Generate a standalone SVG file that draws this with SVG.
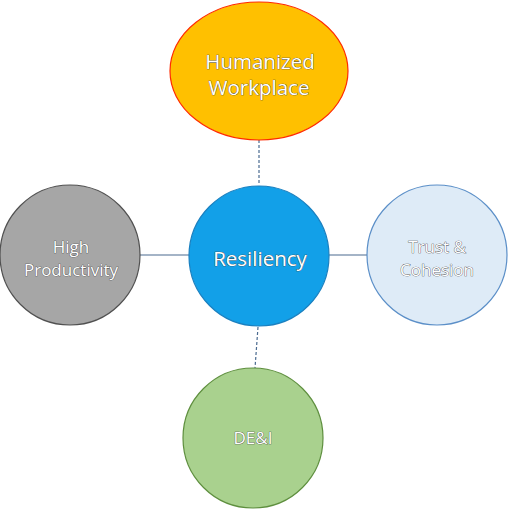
<svg xmlns="http://www.w3.org/2000/svg" width="509" height="510" viewBox="0 0 509 510">
<style>
.lbl{font-family:"Open Sans","Liberation Sans",sans-serif;fill:#ffffff;stroke:#404040;stroke-width:0.7;paint-order:stroke;text-anchor:middle}
.big{font-size:20.5px}
.sm{font-size:17px}
.con{stroke:#4a6a90;stroke-width:1.2;fill:none}
.dash{stroke-dasharray:3 2}
</style>
<rect width="509" height="510" fill="#ffffff"/>
<g id="connectors">
<line class="con dash" x1="259" y1="140" x2="259" y2="185"/>
<line class="con" x1="140" y1="255" x2="189" y2="255"/>
<line class="con" x1="329" y1="255" x2="367" y2="255"/>
<line class="con dash" x1="258" y1="327" x2="255" y2="368"/>
</g>
<g id="humanized">
<ellipse cx="259" cy="71" rx="89" ry="69" fill="#ffc000" stroke="#ff2a00" stroke-width="1.2"/>
<text class="lbl big" x="260" y="69">Humanized</text>
<text class="lbl big" x="259" y="95">Workplace</text>
</g>
<g id="productivity">
<circle cx="70" cy="255" r="70" fill="#a6a6a6" stroke="#505050" stroke-width="1.2"/>
<text class="lbl sm" x="71" y="253">High</text>
<text class="lbl sm" x="71" y="276">Productivity</text>
</g>
<g id="resiliency">
<circle cx="259" cy="256" r="70" fill="#12a0e8" stroke="#1a80c0" stroke-width="1.2"/>
<text class="lbl big" x="260" y="266">Resiliency</text>
</g>
<g id="trust">
<circle cx="437" cy="255" r="70" fill="#deebf7" stroke="#5b8fc8" stroke-width="1.2"/>
<text class="lbl sm" x="437" y="253">Trust &amp;</text>
<text class="lbl sm" x="437" y="276">Cohesion</text>
</g>
<g id="dei">
<circle cx="253" cy="438" r="70" fill="#a9d18e" stroke="#5e8f3e" stroke-width="1.2"/>
<text class="lbl sm" x="253" y="444">DE&amp;I</text>
</g>
</svg>
